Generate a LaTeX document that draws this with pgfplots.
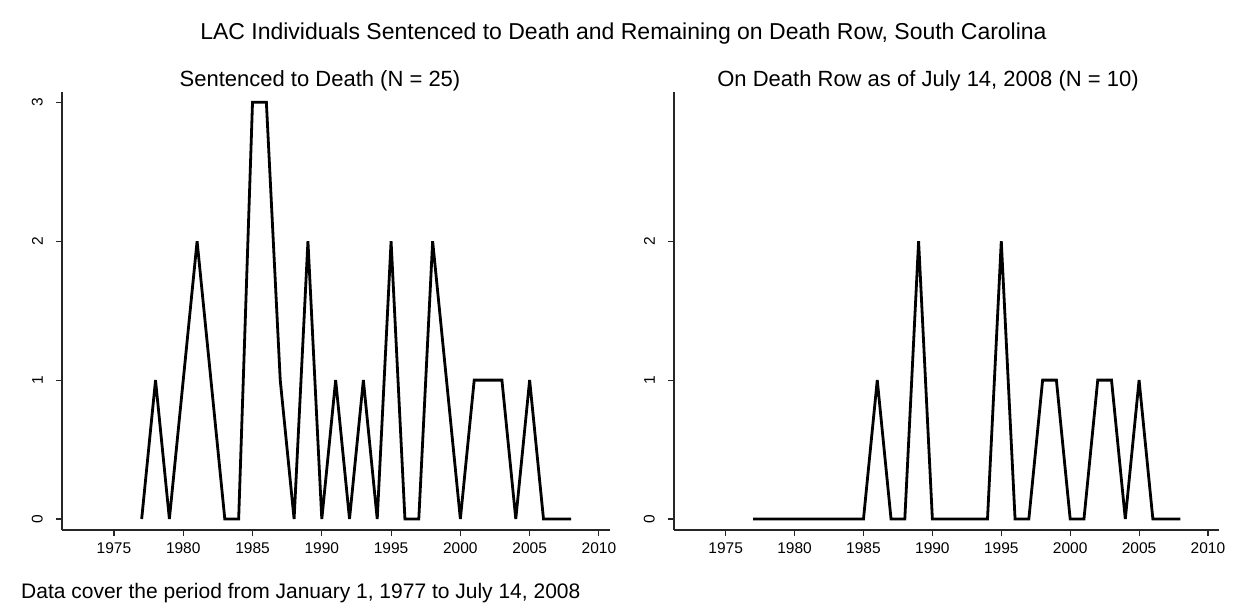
\documentclass[border=0pt]{standalone}
\usepackage{fontspec}
\setmainfont{Liberation Sans}
\usepackage{pgfplots}
\usepackage{pgfplotstable}
\pgfplotsset{compat=1.18}

\pgfplotstableread{
year n
1977 0
1978 1
1979 0
1980 1
1981 2
1982 1
1983 0
1984 0
1985 3
1986 3
1987 1
1988 0
1989 2
1990 0
1991 1
1992 0
1993 1
1994 0
1995 2
1996 0
1997 0
1998 2
1999 1
2000 0
2001 1
2002 1
2003 1
2004 0
2005 1
2006 0
2007 0
2008 0
}\sentenced

\pgfplotstableread{
year n
1977 0
1978 0
1979 0
1980 0
1981 0
1982 0
1983 0
1984 0
1985 0
1986 1
1987 0
1988 0
1989 2
1990 0
1991 0
1992 0
1993 0
1994 0
1995 2
1996 0
1997 0
1998 1
1999 1
2000 0
2001 0
2002 1
2003 1
2004 0
2005 1
2006 0
2007 0
2008 0
}\onrow

\pgfplotsset{
  stata/.style={
    scale only axis,
    height=438pt,
    xmin=1971.25, xmax=2010.8,
    ymin=-0.079, ymax=3.074,
    axis x line*=bottom,
    axis y line*=left,
    axis line style={line width=1.1pt, color=black!85},
    tick style={line width=1.1pt, color=black!85},
    tick align=outside,
    major tick length=6pt,
    xtick={1975,1980,...,2010},
    /pgf/number format/1000 sep={},
    /pgf/number format/assume math mode=true,
    tick label style={font=\fontsize{15.5}{18}\selectfont},
    xticklabel style={yshift=-3pt},
    yticklabel style={xshift=-13pt, rotate=90, anchor=south, inner sep=0pt},
    clip=false,
  }
}

\begin{document}
\begin{tikzpicture}[x=1pt,y=1pt]
\useasboundingbox (0,0) rectangle (1245,-613);
\fill[white] (0,0) rectangle (1245,-613);

\node[anchor=base, font=\fontsize{23}{26}\selectfont] at (623.5,-39) {LAC Individuals Sentenced to Death and Remaining on Death Row, South Carolina};
\node[anchor=base, font=\fontsize{22}{25}\selectfont] at (320,-86) {Sentenced to Death (N = 25)};
\node[anchor=base, font=\fontsize{22}{25}\selectfont] at (928,-86) {On Death Row as of July 14, 2008 (N = 10)};
\node[anchor=base west, inner sep=0pt, font=\fontsize{21}{24}\selectfont] at (21,-598) {Data cover the period from January 1, 1977 to July 14, 2008};

\begin{axis}[stata, width=548pt, at={(62pt,-530pt)}, anchor=south west,
  ytick={0,1,2,3}]
  \addplot[black, line width=2.8pt, mark=none] table[x=year, y=n] {\sentenced};
\end{axis}

\begin{axis}[stata, width=545pt, at={(674pt,-530pt)}, anchor=south west,
  ytick={0,1,2}]
  \addplot[black, line width=2.8pt, mark=none] table[x=year, y=n] {\onrow};
\end{axis}
\end{tikzpicture}
\end{document}
